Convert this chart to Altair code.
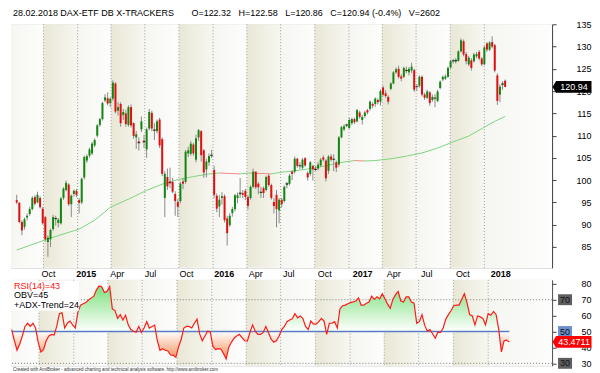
import altair as alt
import pandas as pd

# ---------------- data (weekly bars) ----------------
first_week = "2014-07-21"
n_weeks = 189
weeks = pd.date_range(first_week, periods=n_weeks, freq="7D").strftime("%Y-%m-%d").tolist()

opens = [95.5, 94.9, 90.6, 89.5, 91.6, 92.4, 93.5, 96.2, 95.0, 96.0,
         93.6, 91.7, 86.1, 86.7, 89.0, 91.2, 90.4, 90.3, 96.0, 97.8,
         99.0, 94.6, 96.9, 97.6, 95.5, 95.0, 100.6, 104.4, 105.5, 106.0,
         107.8, 110.0, 112.4, 113.7, 117.9, 118.4, 117.3, 118.3, 121.7, 115.6,
         117.1, 114.6, 115.0, 112.4, 116.4, 112.8, 109.6, 108.7, 111.4, 108.9,
         106.9, 111.6, 115.1, 111.4, 111.0, 113.6, 109.2, 96.0, 100.7, 99.7,
         99.6, 96.9, 95.1, 95.3, 99.7, 99.6, 106.0, 105.9, 108.0, 104.6,
         109.6, 111.0, 106.7, 102.4, 104.0, 105.4, 102.3, 96.5, 94.1, 96.0,
         96.4, 91.4, 89.9, 92.6, 93.5, 96.0, 96.8, 97.1, 97.6, 96.2,
         96.0, 98.5, 101.9, 99.2, 97.1, 98.2, 97.8, 101.0, 98.9, 95.1,
         96.7, 93.2, 95.6, 95.3, 98.9, 99.2, 101.9, 101.9, 104.8, 103.3,
         102.8, 104.9, 101.6, 101.4, 103.2, 102.6, 102.6, 103.3, 105.1, 104.4,
         102.1, 105.3, 104.6, 104.0, 103.5, 109.6, 111.4, 112.2, 111.7, 112.8,
         113.7, 113.2, 115.2, 113.5, 114.4, 115.7, 116.0, 117.1, 117.1, 118.0,
         117.6, 120.8, 119.5, 118.7, 120.5, 121.7, 124.2, 125.0, 123.3, 123.2,
         124.8, 124.2, 124.6, 124.7, 121.0, 121.2, 123.2, 119.2, 118.5, 119.7,
         118.0, 118.5, 117.8, 120.7, 122.6, 122.8, 123.2, 125.3, 126.7, 126.6,
         126.8, 128.9, 131.2, 128.3, 126.0, 126.9, 126.7, 127.8, 128.8, 127.3,
         126.0, 130.7, 129.3, 131.0, 130.3, 123.5, 119.2, 121.4, 122.32]
highs = [96.7, 95.1, 91.0, 91.6, 92.5, 94.0, 96.4, 96.6, 97.4, 96.4,
         94.0, 91.9, 87.6, 89.1, 92.2, 92.0, 91.5, 96.2, 98.4, 99.9,
         99.3, 96.8, 97.9, 98.0, 96.0, 100.6, 105.5, 105.8, 107.3, 108.6,
         109.4, 112.6, 114.0, 117.6, 119.3, 119.7, 118.6, 122.4, 122.0, 117.5,
         117.5, 116.0, 115.8, 116.8, 117.0, 113.0, 111.0, 109.6, 114.3, 110.2,
         111.8, 116.0, 115.6, 112.8, 113.6, 114.0, 109.6, 102.0, 102.6, 102.8,
         100.5, 97.5, 95.8, 99.6, 100.5, 106.8, 107.5, 108.8, 108.4, 110.2,
         111.5, 111.2, 107.0, 104.8, 106.0, 106.8, 103.2, 97.0, 96.6, 97.3,
         96.8, 92.0, 92.6, 94.0, 96.9, 97.2, 100.5, 97.8, 98.0, 96.6,
         98.8, 102.6, 102.0, 99.6, 98.5, 98.6, 101.0, 101.4, 99.2, 96.0,
         97.8, 96.0, 96.0, 98.8, 99.6, 101.4, 102.2, 105.3, 105.0, 104.0,
         105.0, 105.2, 102.0, 104.3, 103.5, 103.2, 104.0, 105.0, 105.6, 104.7,
         105.6, 105.8, 105.8, 104.4, 109.9, 112.2, 112.5, 112.7, 114.0, 114.0,
         114.0, 116.0, 115.6, 114.6, 115.6, 116.0, 117.9, 117.5, 118.6, 118.4,
         120.4, 121.2, 120.2, 119.0, 122.0, 124.5, 125.3, 125.7, 123.8, 125.5,
         125.5, 125.4, 126.4, 125.0, 121.6, 123.5, 123.5, 119.6, 120.3, 120.0,
         119.2, 119.3, 120.3, 122.4, 123.5, 123.8, 125.5, 127.0, 127.2, 127.4,
         129.2, 131.8, 131.6, 128.8, 127.9, 127.4, 128.6, 128.8, 129.2, 127.6,
         130.2, 131.0, 131.2, 132.3, 130.6, 124.0, 121.5, 122.2, 122.58]
lows = [94.6, 90.3, 87.6, 88.9, 91.0, 92.0, 93.2, 94.3, 94.8, 93.6,
        90.0, 86.2, 82.8, 85.0, 88.6, 89.8, 89.4, 90.0, 95.6, 97.5,
        94.2, 91.7, 96.3, 96.2, 92.5, 94.6, 100.2, 103.9, 105.0, 105.6,
        107.4, 109.6, 112.0, 113.4, 117.5, 116.8, 116.4, 117.8, 115.0, 114.5,
        112.0, 113.5, 112.0, 112.0, 111.8, 109.3, 107.0, 106.6, 110.8, 107.2,
        105.0, 111.2, 111.0, 109.0, 110.5, 107.2, 100.9, 91.7, 97.8, 98.2,
        97.0, 92.0, 91.7, 94.8, 98.0, 99.2, 105.2, 105.5, 105.5, 104.0,
        108.8, 104.2, 100.5, 100.6, 103.2, 105.0, 96.0, 92.8, 91.7, 94.5,
        90.5, 85.3, 89.5, 91.8, 93.0, 94.8, 96.0, 96.0, 95.5, 93.4,
        95.6, 98.2, 98.0, 96.8, 96.0, 96.0, 97.5, 98.5, 95.6, 92.5,
        89.4, 90.3, 93.8, 95.0, 98.2, 98.8, 100.0, 101.5, 102.8, 102.5,
        102.4, 103.0, 99.9, 101.0, 99.9, 102.0, 102.2, 103.0, 104.2, 99.7,
        101.4, 104.2, 102.0, 101.8, 103.0, 109.4, 111.0, 111.9, 111.5, 112.4,
        112.6, 113.0, 113.8, 112.5, 114.0, 114.8, 115.6, 116.2, 116.5, 117.0,
        116.7, 118.8, 118.5, 117.0, 120.2, 121.5, 123.9, 122.8, 122.2, 122.9,
        124.0, 123.5, 124.0, 119.8, 120.0, 120.8, 118.8, 118.0, 118.2, 116.7,
        117.6, 116.4, 117.5, 120.4, 122.2, 122.5, 123.0, 125.0, 126.2, 126.2,
        126.6, 128.7, 127.8, 126.0, 125.6, 124.6, 126.4, 127.4, 126.9, 125.6,
        125.8, 128.8, 129.0, 129.6, 124.2, 116.9, 117.5, 120.3, 120.86]
closes = [95.0, 90.6, 88.7, 91.2, 92.0, 93.5, 96.0, 94.7, 96.7, 93.9,
          90.3, 86.7, 87.1, 88.8, 91.7, 91.4, 91.1, 95.9, 98.1, 99.4,
          94.6, 96.5, 97.6, 96.7, 94.9, 100.3, 105.2, 105.4, 106.9, 108.2,
          109.0, 112.3, 113.7, 117.3, 118.6, 117.2, 118.3, 121.9, 115.4, 116.4,
          112.8, 115.3, 112.6, 116.4, 112.3, 109.9, 110.3, 108.4, 113.2, 108.6,
          111.4, 115.3, 111.6, 111.2, 113.2, 107.8, 101.4, 101.4, 98.6, 99.4,
          97.4, 95.3, 94.0, 99.2, 99.2, 106.4, 106.7, 108.2, 106.0, 109.4,
          111.2, 105.6, 101.7, 104.2, 105.4, 105.6, 96.7, 93.6, 95.6, 96.4,
          91.0, 88.1, 92.0, 93.5, 96.6, 96.6, 97.1, 96.7, 96.2, 94.2,
          98.5, 101.9, 98.4, 98.4, 97.3, 97.1, 100.7, 98.9, 96.0, 94.2,
          93.5, 95.6, 94.6, 98.5, 99.2, 101.0, 101.4, 104.8, 103.2, 103.2,
          104.6, 103.3, 100.6, 104.0, 102.4, 102.4, 103.5, 104.6, 104.6, 100.4,
          105.3, 104.6, 104.7, 102.8, 109.6, 111.9, 112.1, 112.4, 113.5, 113.7,
          113.0, 115.7, 114.2, 114.2, 115.2, 115.2, 117.6, 116.7, 118.3, 117.5,
          120.0, 119.2, 118.9, 117.6, 121.7, 124.2, 124.9, 123.2, 122.8, 125.2,
          124.6, 125.0, 125.5, 120.3, 121.0, 123.2, 119.2, 118.5, 119.9, 117.3,
          118.7, 118.4, 119.9, 122.1, 123.2, 123.3, 125.2, 126.7, 126.8, 126.9,
          128.9, 131.4, 128.2, 126.7, 127.5, 125.2, 128.2, 128.3, 127.3, 126.0,
          129.8, 129.3, 130.9, 130.0, 124.6, 117.8, 121.0, 121.6, 120.94]

rsi14 = [51.2, 44.2, 38.2, 42.2, 47.2, 53.2, 55.2, 53.2, 55.2, 52.2,
         43.2, 37.2, 38.6, 44.2, 47.2, 48.2, 47.8, 53.2, 61.2, 61.8,
         52.2, 55.2, 56.6, 54.2, 52.2, 62.2, 66.6, 67.5, 68.2, 69.8,
         71.0, 72.2, 76.2, 78.6, 78.2, 74.6, 75.2, 78.2, 64.2, 63.2,
         58.2, 60.6, 57.2, 60.2, 54.2, 51.2, 50.2, 49.5, 53.2, 49.4,
         52.2, 56.2, 52.2, 53.2, 54.0, 44.2, 38.2, 39.2, 38.2, 37.8,
         35.2, 35.0, 33.8, 40.2, 45.0, 52.2, 53.2, 53.2, 52.2, 55.2,
         57.8, 48.5, 44.2, 47.2, 50.2, 49.8, 40.6, 38.6, 39.2, 39.0,
         36.2, 32.8, 40.2, 43.2, 45.8, 47.2, 48.2, 46.2, 44.2, 44.0,
         49.4, 54.2, 50.2, 48.2, 48.2, 49.4, 53.2, 49.4, 45.2, 43.2,
         44.2, 47.2, 51.2, 53.2, 56.2, 57.2, 58.0, 61.2, 58.6, 59.8,
         58.2, 53.2, 51.2, 56.6, 54.6, 54.6, 56.2, 58.2, 56.6, 48.2,
         55.2, 55.2, 56.2, 52.2, 64.2, 66.2, 66.6, 67.5, 68.2, 68.6,
         69.2, 71.2, 66.6, 66.6, 67.8, 68.6, 72.2, 70.2, 71.8, 70.6,
         73.8, 70.6, 67.2, 64.6, 70.2, 73.2, 75.2, 69.2, 68.6, 71.8,
         71.8, 68.6, 67.8, 55.2, 56.2, 60.6, 54.0, 50.2, 51.2, 48.6,
         45.8, 49.6, 49.4, 52.2, 57.8, 60.6, 63.2, 66.2, 66.6, 66.6,
         70.2, 73.8, 68.2, 60.6, 59.8, 54.2, 59.8, 59.2, 58.2, 54.2,
         61.2, 60.2, 62.6, 60.6, 51.2, 37.2, 44.2, 44.6, 43.47]

# long moving average, read at selected weeks
ma_week_idx = [0, 12, 24, 30, 36, 44, 50, 56, 62, 68, 74, 78, 82, 86, 90, 94, 98,
               102, 106, 112, 118, 124, 130, 134, 138, 144, 150, 156, 162, 168,
               174, 180, 184, 188]
ma_values = [84.3, 86.8, 89.0, 91.0, 93.9, 96.0, 97.7, 99.1, 100.1, 100.8, 101.4,
             101.6, 101.5, 101.4, 101.6, 101.5, 101.4, 101.8, 102.0, 102.5, 103.1,
             103.9, 104.4, 104.3, 104.4, 104.8, 105.4, 106.1, 107.2, 108.6, 109.9,
             111.9, 113.2, 114.3]

quarter_lines = ["2014-10-01", "2015-01-01", "2015-04-01", "2015-07-01", "2015-10-01",
                 "2016-01-01", "2016-04-01", "2016-07-01", "2016-10-01", "2017-01-01",
                 "2017-04-01", "2017-07-01", "2017-10-01", "2018-01-01"]
dark_band_start = ["2014-10-01", "2015-04-01", "2015-10-01", "2016-04-01",
                   "2016-10-01", "2017-04-01", "2017-10-01"]
dark_band_end = ["2015-01-01", "2015-07-01", "2016-01-01", "2016-07-01",
                 "2017-01-01", "2017-07-01", "2018-01-01"]
light_band_start = ["2014-07-01", "2015-01-01", "2015-07-01", "2016-01-01",
                    "2016-07-01", "2017-01-01", "2017-07-01", "2018-01-01"]
light_band_end = ["2014-10-01", "2015-04-01", "2015-10-01", "2016-04-01",
                  "2016-10-01", "2017-04-01", "2017-10-01", "2018-07-01"]

rsi_levels = [70, 50, 30]
rsi_level_box = ["#5e5e5e", "#6e8fcc", "#5e5e5e"]

header = ("28.02.2018 DAX-ETF DB X-TRACKERS" + "\u00a0" * 7 + "O=122.32" + "\u00a0" * 3
          + "H=122.58" + "\u00a0" * 3 + "L=120.86" + "\u00a0" * 3
          + "C=120.94 (-0.4%)" + "\u00a0" * 3 + "V=2602")
legend_lines = ["RSI(14)=43", "OBV=45", "+ADX-Trend=24"]
legend_colors = ["#ff1010", "#000000", "#000000"]
footer = ("Created with AmiBroker - advanced charting and technical analysis software. "
          "http://www.amibroker.com")

# ---------------- tables ----------------
bars = pd.DataFrame({"date": weeks, "open": opens, "high": highs, "low": lows,
                     "close": closes, "rsi": rsi14})
ma_dates = [weeks[i] for i in ma_week_idx]
ma_seg = pd.DataFrame({"d": ma_dates[:-1], "d2": ma_dates[1:],
                       "v": ma_values[:-1], "v2": ma_values[1:]})
ma_seg["dir"] = ["up" if b >= a else "down" for a, b in zip(ma_seg["v"], ma_seg["v2"])]
dark_df = pd.DataFrame({"start": dark_band_start, "end": dark_band_end})
light_df = pd.DataFrame({"start": light_band_start, "end": light_band_end})
q_df = pd.DataFrame({"q": quarter_lines})
lvl_df = pd.DataFrame({"lvl": rsi_levels, "col": rsi_level_box,
                       "txt": [str(v) for v in rsi_levels]})
last_df = pd.DataFrame({"v": [closes[-1]], "t": [f"{closes[-1]:.2f}"]})
rsi_last_df = pd.DataFrame({"v": [rsi14[-1]], "t": ["43.4711"]})

# ---------------- styling ----------------
FONT = "Liberation Sans"
W, H1, H2 = 542, 244, 86
GREEN, RED = "#118611", "#e01010"
TAG = "M-1,0 L-0.82,-0.3 L1,-0.3 L1,0.3 L-0.82,0.3 Z"
BOX = "M-1,-0.78 L1,-0.78 L1,0.78 L-1,0.78 Z"

xs = alt.Scale(type="utc", domain=[alt.DateTime(year=2014, month=7, date=19, utc=True),
                                   alt.DateTime(year=2018, month=6, date=19, utc=True)])
x_axis_top = alt.Axis(
    orient="top", values=[alt.DateTime(year=int(q[:4]), month=int(q[5:7]), date=1, utc=True)
                          for q in quarter_lines],
    labelExpr="utcmonth(datum.value) == 0 ? utcFormat(datum.value, '%Y') : utcFormat(datum.value, '%b')",
    labelFontWeight={"condition": {"test": "utcmonth(datum.value) == 0", "value": "bold"},
                     "value": "normal"},
    labelAlign="left", labelOffset=2, labelPadding=1, ticks=False, tickSize=0, domain=False,
    grid=False, labelFontSize=9, labelFont=FONT, labelColor="#000", title=None,
    labelFlush=False, labelOverlap=False)


def X(field, axis=None, **kw):
    return alt.X(field, type="temporal", scale=xs, axis=axis, **kw)


def yaxis(vals):
    return alt.Axis(orient="right", values=vals, tickSize=4, labelAlign="right",
                    labelPadding=35, labelFontSize=9, labelFont=FONT, labelColor="#000",
                    domainColor="#444", tickColor="#444", grid=False, title=None,
                    labelFlush=False)


ys1 = alt.Scale(domain=[80.3, 135], zero=False, nice=False)
ya1 = yaxis(list(range(85, 140, 5)))
ys2 = alt.Scale(domain=[28.5, 82.5], zero=False, nice=False)
ya2 = yaxis([30, 40, 50, 60, 70, 80])

dark_grad = alt.Gradient(gradient="linear", x1=0, x2=1, y1=0, y2=0,
                         stops=[alt.GradientStop(color="#e9e7d5", offset=0),
                                alt.GradientStop(color="#f7f7f1", offset=1)])
light_grad = alt.Gradient(gradient="linear", x1=0, x2=1, y1=0, y2=0,
                          stops=[alt.GradientStop(color="#f5f5f1", offset=0),
                                 alt.GradientStop(color="#fdfdfc", offset=1)])


def backdrop(axis):
    dark = alt.Chart(dark_df).mark_rect(fill=dark_grad, clip=True).encode(
        x=X("start", axis), x2="end")
    light = alt.Chart(light_df).mark_rect(fill=light_grad, clip=True).encode(
        x=X("start", axis), x2="end")
    rules = alt.Chart(q_df).mark_rule(color="#9c9c9c", strokeDash=[1, 2],
                                      strokeWidth=1).encode(x=X("q", axis))
    return [light, dark, rules]


# ---------------- main price panel ----------------
ma_layer = alt.Chart(ma_seg).mark_rule(strokeWidth=1).encode(
    x=X("d"), x2="d2", y=alt.Y("v:Q", scale=ys1, axis=ya1), y2="v2:Q",
    color=alt.Color("dir:N", scale=alt.Scale(domain=["up", "down"],
                                             range=["#80d480", "#f08a8a"]), legend=None))
wicks = alt.Chart(bars).mark_rule(color="#8a8a8a", strokeWidth=1).encode(
    x=X("date"), y=alt.Y("low:Q", scale=ys1, axis=ya1), y2="high:Q")
bodies = alt.Chart(bars).mark_bar(size=2).encode(
    x=X("date"), y=alt.Y("open:Q", scale=ys1, axis=ya1), y2="close:Q",
    color=alt.condition("datum.close >= datum.open", alt.value(GREEN), alt.value(RED)))
dojis = alt.Chart(bars).transform_filter("abs(datum.close - datum.open) < 0.35").mark_tick(
    orient="horizontal", size=3, thickness=1, color="#111").encode(
    x=X("date"), y=alt.Y("close:Q", scale=ys1, axis=ya1))
price_tag = alt.Chart(last_df).mark_point(shape=TAG, size=1521, filled=True, color="#000",
                                          opacity=1, strokeWidth=0).encode(
    x=alt.value(W + 20), y=alt.Y("v:Q", scale=ys1, axis=ya1))
price_txt = alt.Chart(last_df).mark_text(color="#fff", fontSize=9, font=FONT,
                                         align="center", baseline="middle").encode(
    x=alt.value(W + 22), y=alt.Y("v:Q", scale=ys1, axis=ya1), text="t:N")

main = alt.layer(*backdrop(None), ma_layer, wicks, bodies, dojis, price_tag, price_txt).properties(
    width=W, height=H1,
    title=alt.TitleParams(header, anchor="start", fontSize=9, font=FONT, fontWeight="normal",
                          color="#000", offset=2, dx=2))

# ---------------- RSI panel ----------------
def XT(f, **kw):
    return X(f, x_axis_top, **kw)


lvl_rules = alt.Chart(pd.DataFrame({"lvl": [70, 30]})).mark_rule(
    color="#7a7a7a", strokeDash=[1, 2], strokeWidth=1).encode(
    y=alt.Y("lvl:Q", scale=ys2, axis=ya2))
green_fill = alt.Gradient(gradient="linear", x1=0, x2=0, y1=0, y2=1,
                          stops=[alt.GradientStop(color="#7ee07e", offset=0),
                                 alt.GradientStop(color="#ffffff", offset=1)])
orange_fill = alt.Gradient(gradient="linear", x1=0, x2=0, y1=0, y2=1,
                           stops=[alt.GradientStop(color="#ffffff", offset=0),
                                  alt.GradientStop(color="#f5935a", offset=1)])
up_area = alt.Chart(bars).transform_calculate(up="max(datum.rsi, 50)").mark_area(
    fill=green_fill, opacity=1).encode(
    x=XT("date"), y=alt.Y("up:Q", scale=ys2, axis=ya2), y2=alt.datum(50))
dn_area = alt.Chart(bars).transform_calculate(dn="min(datum.rsi, 50)").mark_area(
    fill=orange_fill, opacity=1).encode(
    x=XT("date"), y=alt.Y("dn:Q", scale=ys2, axis=ya2), y2=alt.datum(50))
mid_rule = alt.Chart(bars).mark_rule(color="#5a7cc4", strokeWidth=1.3).encode(
    x=XT("date", aggregate="min"), x2=alt.X2("date", aggregate="max"),
    y=alt.YDatum(50, scale=ys2, axis=ya2))
rsi_line = alt.Chart(bars).mark_line(color="#ff1a1a", strokeWidth=1.2).encode(
    x=XT("date"), y=alt.Y("rsi:Q", scale=ys2, axis=ya2))
lvl_boxes = alt.Chart(lvl_df).mark_point(shape=BOX, size=196, filled=True, opacity=1,
                                         strokeWidth=0).encode(
    x=alt.value(W + 13), y=alt.Y("lvl:Q", scale=ys2, axis=ya2),
    fill=alt.Fill("col:N", scale=None))
lvl_txt = alt.Chart(lvl_df).mark_text(fontSize=9, font=FONT, color="#111", align="center",
                                      baseline="middle").encode(
    x=alt.value(W + 13), y=alt.Y("lvl:Q", scale=ys2, axis=ya2), text="txt:N")
rsi_tag = alt.Chart(rsi_last_df).mark_point(shape=TAG, size=1521, filled=True,
                                            color="#ff0000", opacity=1, strokeWidth=0).encode(
    x=alt.value(W + 20), y=alt.Y("v:Q", scale=ys2, axis=ya2))
rsi_tag_txt = alt.Chart(rsi_last_df).mark_text(color="#fff", fontSize=9, font=FONT,
                                               align="center", baseline="middle").encode(
    x=alt.value(W + 22), y=alt.Y("v:Q", scale=ys2, axis=ya2), text="t:N")
leg_bg = alt.Chart(pd.DataFrame({"a": [0]})).mark_rect(fill="#ffffff").encode(
    x=alt.value(0.5), x2=alt.value(68), y=alt.value(1), y2=alt.value(31))
leg_layers = []
for k, (t, c) in enumerate(zip(legend_lines, legend_colors)):
    leg_layers.append(
        alt.Chart(pd.DataFrame({"t": [t]})).mark_text(
            fontSize=9, font=FONT, align="left", baseline="middle", color=c).encode(
            x=alt.value(3), y=alt.value(6 + 9.5 * k), text="t:N"))
foot_txt = alt.Chart(pd.DataFrame({"t": [footer]})).mark_text(
    fontSize=4.5, font=FONT, align="left", baseline="middle", color="#333").encode(
    x=alt.value(2), y=alt.value(H2 + 4), text="t:N")

rsi_panel = alt.layer(*backdrop(x_axis_top), lvl_rules, up_area, dn_area, mid_rule, rsi_line,
                      lvl_boxes, lvl_txt, rsi_tag, rsi_tag_txt, leg_bg, *leg_layers,
                      foot_txt).properties(width=W, height=H2)

chart = alt.vconcat(main, rsi_panel, spacing=0).properties(
    padding={"left": 0, "top": 0, "right": 0, "bottom": 0}
).configure_view(stroke="#8a8a8a").configure(font=FONT, background="#ffffff")

chart.save("out.html", embed_options={"renderer": "svg", "actions": False})
